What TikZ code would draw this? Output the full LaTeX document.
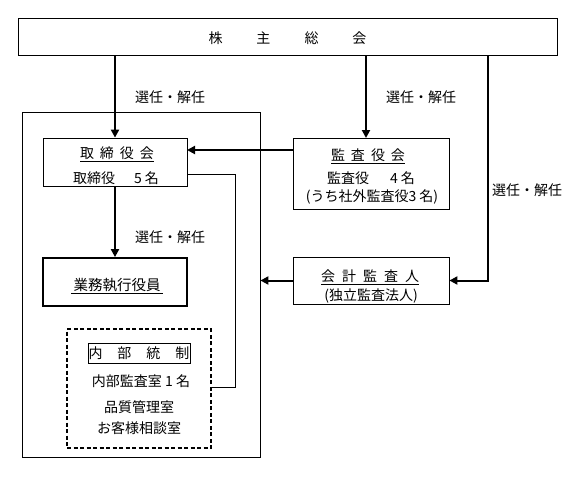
\documentclass[tikz,border=0pt]{standalone}
\usepackage{fontspec}
\setmainfont{Noto Sans CJK JP}
\usetikzlibrary{arrows.meta}
\tikzset{
  box/.style={draw, line width=0.8pt, inner sep=0pt},
  arr/.style={line width=2pt, -{Triangle[width=8pt,length=8pt]}},
  thinline/.style={line width=0.8pt},
  txt/.style={font=\fontsize{14}{16}\selectfont, inner sep=0pt},
}
\begin{document}
\begin{tikzpicture}[x=1pt,y=1pt]
\useasboundingbox (0,0) rectangle (573,-483);
% boxes
\node[box, minimum width=539pt, minimum height=37pt] (soukai) at (287.5,-36.5) {};
\node[box, minimum width=238pt, minimum height=345pt] (outer) at (141,-284.5) {};
\node[box, fill=white, minimum width=144pt, minimum height=48pt] (tori) at (115,-162) {};
\node[box, minimum width=156pt, minimum height=71pt] (kansa) at (371,-173.5) {};
\node[box, line width=1.8pt, minimum width=144pt, minimum height=48pt] (gyomu) at (115,-282) {};
\node[box, minimum width=156pt, minimum height=47pt] (kaikei) at (371,-280.5) {};
\node[box, line width=1.6pt, dash pattern=on 4pt off 2.5pt, minimum width=144pt, minimum height=119pt] (naibubox) at (139,-388.5) {};

% texts
\node[txt] (tsoukai) at (287.5,-38) {株\hspace{34pt}主\hspace{34pt}総\hspace{34pt}会};
\node[txt] (ttori1) at (117,-154) {\underline{取\hspace{6pt}締\hspace{6pt}役\hspace{6pt}会}};
\node[txt] (ttori2) at (116,-178) {取締役\hspace{19pt}5 名};
\node[txt] (tkansa1) at (368,-156) {\underline{監\hspace{6pt}査\hspace{6pt}役\hspace{6pt}会}};
\node[txt] (tkansa2) at (371,-178) {監査役\hspace{21pt}4 名};
\node[txt] (tkansa3) at (372,-197) {(うち社外監査役3 名)};
\node[txt, font=\fontsize{14.5}{16}\selectfont] (tgyomu) at (117,-286) {\underline{\,業務執行役員\,}};
\node[txt] (tkaikei1) at (370,-277) {\underline{会\hspace{7pt}計\hspace{7pt}監\hspace{7pt}査\hspace{7pt}人}};
\node[txt] (tkaikei2) at (371,-296) {(独立監査法人)};
\node[draw, line width=0.8pt, inner sep=1pt, minimum width=102pt, minimum height=20pt, txt] (naibu) at (139,-353) {内\hspace{15pt}部\hspace{15pt}統\hspace{15pt}制};
\node[txt] (tn1) at (141,-381) {内部監査室 1 名};
\node[txt] (tn2) at (139,-407) {品質管理室};
\node[txt] (tn3) at (139,-428) {お客様相談室};

% labels
\node[txt] (l1) at (170,-97) {選任・解任};
\node[txt] (l2) at (421,-97) {選任・解任};
\node[txt] (l3) at (527,-190) {選任・解任};
\node[txt] (l4) at (170,-237) {選任・解任};

% coordinates
\coordinate (kTop) at (366,-138);
\coordinate (rTop) at (488,-55);
\coordinate (rCorner) at (488,-280.5);
\coordinate (kWest) at (293,-150);
\coordinate (tEast) at (187,-150);
\coordinate (tEast2) at (187,-174);
\coordinate (c1) at (235,-174);
\coordinate (c2) at (235,-387);
\coordinate (nEast) at (211,-387);

% connectors
\draw[arr] (soukai.south -| tori.north) -- (tori.north);
\draw[arr] (soukai.south -| kTop) -- (kTop);
\draw[arr] (rTop) -- (rCorner) -- (kaikei.east);
\draw[arr] (kWest) -- (tEast);
\draw[arr] (kaikei.west) -- (kaikei.west -| outer.east);
\draw[arr] (tori.south) -- (gyomu.north);
\draw[thinline] (tEast2) -- (c1) -- (c2) -- (nEast);
\end{tikzpicture}
\end{document}
